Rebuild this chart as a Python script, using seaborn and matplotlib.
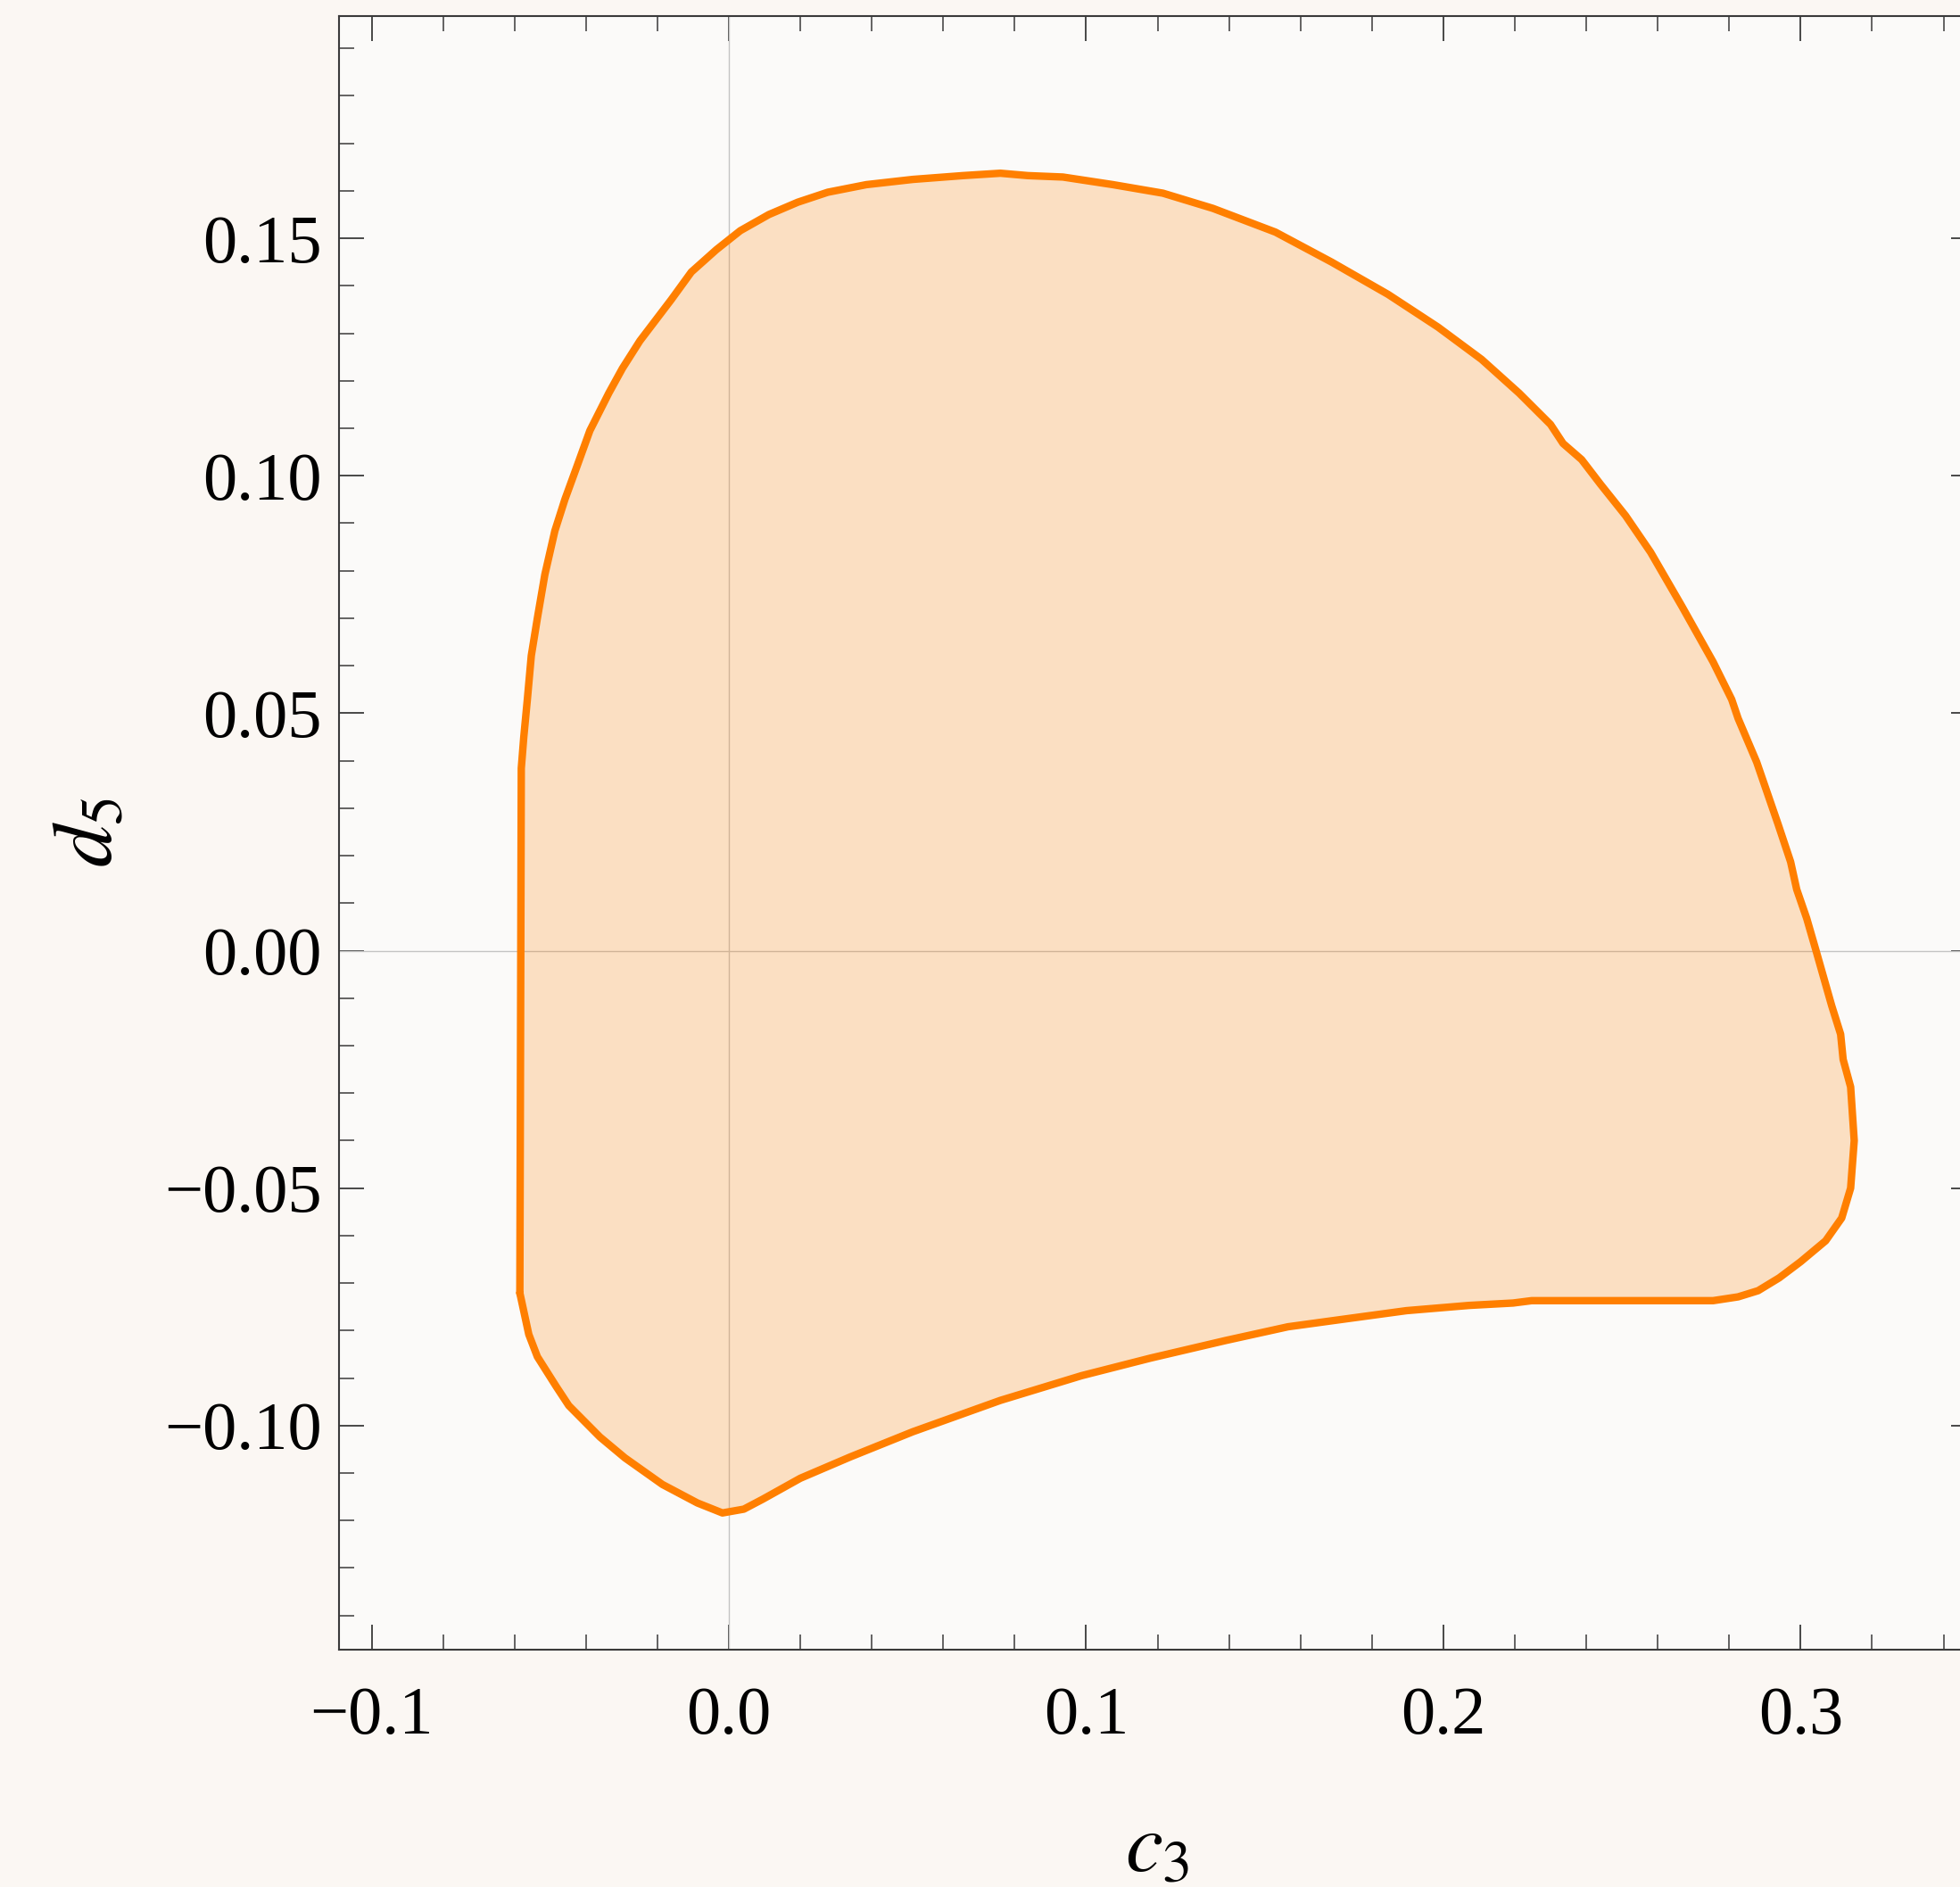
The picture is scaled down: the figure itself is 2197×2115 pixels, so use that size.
import matplotlib
matplotlib.use("Agg")
import matplotlib.pyplot as plt
from matplotlib.ticker import MultipleLocator, FixedLocator
import numpy as np
import pandas as pd
import seaborn as sns

# Boundary of the allowed region in the (c3, d5) plane, traced counter-clockwise
c3 = [-0.0585, -0.0581, -0.0574, -0.0564, -0.0553, -0.0536, -0.0515, -0.0487, -0.0459, -0.0427,
      -0.0389, -0.0336, -0.0298, -0.0249, -0.0161, -0.0105, -0.0035, 0.0032, 0.0112, 0.0193,
      0.0277, 0.0385, 0.0515, 0.0655, 0.0760, 0.0837, 0.0935, 0.1075, 0.1215, 0.1355,
      0.1530, 0.1687, 0.1845, 0.1985, 0.2107, 0.2212, 0.2300, 0.2335, 0.2387, 0.2440,
      0.2510, 0.2580, 0.2667, 0.2755, 0.2807, 0.2825, 0.2877, 0.2937, 0.2972, 0.2989,
      0.3017, 0.3042, 0.3087, 0.3112, 0.3119, 0.3140, 0.3150, 0.3140, 0.3115, 0.3070,
      0.3000, 0.2940, 0.2881, 0.2825, 0.2755, 0.2247, 0.2195, 0.2072, 0.1897, 0.1740,
      0.1565, 0.1390, 0.1180, 0.0987, 0.0760, 0.0515, 0.0340, 0.0200, 0.0095, 0.0042,
      -0.0018, -0.0088, -0.0186, -0.0291, -0.0361, -0.0448, -0.0483, -0.0536, -0.0560]
d5 = [-0.0721, 0.0384, 0.0450, 0.0529, 0.0621, 0.0700, 0.0792, 0.0884, 0.0950, 0.1016,
      0.1095, 0.1174, 0.1226, 0.1284, 0.1371, 0.1429, 0.1476, 0.1516, 0.1550, 0.1576,
      0.1597, 0.1613, 0.1624, 0.1632, 0.1637, 0.1632, 0.1629, 0.1613, 0.1595, 0.1563,
      0.1513, 0.1450, 0.1382, 0.1313, 0.1245, 0.1174, 0.1108, 0.1068, 0.1034, 0.0982,
      0.0916, 0.0839, 0.0726, 0.0608, 0.0529, 0.0489, 0.0397, 0.0266, 0.0187, 0.0129,
      0.0068, 0.0003, -0.0116, -0.0176, -0.0229, -0.0287, -0.0400, -0.0500, -0.0563, -0.0611,
      -0.0655, -0.0689, -0.0716, -0.0729, -0.0737, -0.0737, -0.0742, -0.0747, -0.0758, -0.0774,
      -0.0792, -0.0821, -0.0858, -0.0895, -0.0947, -0.1013, -0.1066, -0.1111, -0.1155, -0.1176,
      -0.1184, -0.1163, -0.1124, -0.1068, -0.1024, -0.0958, -0.0918, -0.0855, -0.0808]

x_ticks = [-0.1, 0.0, 0.1, 0.2, 0.3]
x_tick_labels = ["\u22120.1", "0.0", "0.1", "0.2", "0.3"]
y_ticks = [-0.10, -0.05, 0.0, 0.05, 0.10, 0.15]
y_tick_labels = ["\u22120.10", "\u22120.05", "0.00", "0.05", "0.10", "0.15"]

sns.set_theme(style="ticks")
plt.rcParams["font.family"] = ["Liberation Serif", "DejaVu Serif"]
plt.rcParams["mathtext.fontset"] = "stix"

df = pd.DataFrame({"c3": c3 + [c3[0]], "d5": d5 + [d5[0]], "order": np.arange(len(c3) + 1)})

fig = plt.figure(figsize=(21.97, 21.15), dpi=100, facecolor="#fbf7f3")
ax = fig.add_axes([0.173, 0.126, 0.835, 0.8655])
ax.set_facecolor("#fbfaf9")

# axes through the origin
ax.axhline(0, color="#c4c4c4", lw=1.0, zorder=1)
ax.axvline(0, color="#c4c4c4", lw=1.0, zorder=1)

ax.fill(df["c3"], df["d5"], color="#ff7f00", alpha=0.22, lw=0, zorder=2)
sns.lineplot(data=df, x="c3", y="d5", sort=False, estimator=None, color="#ff7f00",
             lw=6.0, ax=ax, zorder=3)

ax.set_xlim(-0.1091, 0.349)
ax.set_ylim(-0.1471, 0.1968)

ax.xaxis.set_major_locator(FixedLocator(x_ticks))
ax.set_xticklabels(x_tick_labels)
ax.yaxis.set_major_locator(FixedLocator(y_ticks))
ax.set_yticklabels(y_tick_labels)
ax.xaxis.set_minor_locator(MultipleLocator(0.02))
ax.yaxis.set_minor_locator(MultipleLocator(0.01))

ax.tick_params(which="both", direction="in", top=True, right=True, color="#3a3a3a")
ax.tick_params(which="major", length=20, width=1.3, labelsize=55, labelcolor="black")
ax.tick_params(which="minor", length=12, width=1.1)
ax.tick_params(axis="x", which="major", pad=30)
ax.tick_params(axis="y", which="major", pad=14)

for s in ax.spines.values():
    s.set_color("#3a3a3a")
    s.set_linewidth(1.5)

ax.set_xlabel(r"$c_3$", fontsize=68, color="black")
ax.set_ylabel(r"$d_5$", fontsize=68, color="black", rotation=90)
ax.xaxis.set_label_coords(0.5, -0.100)
ax.yaxis.set_label_coords(-0.128, 0.5)

fig.savefig("out.png", dpi=100, facecolor=fig.get_facecolor())
